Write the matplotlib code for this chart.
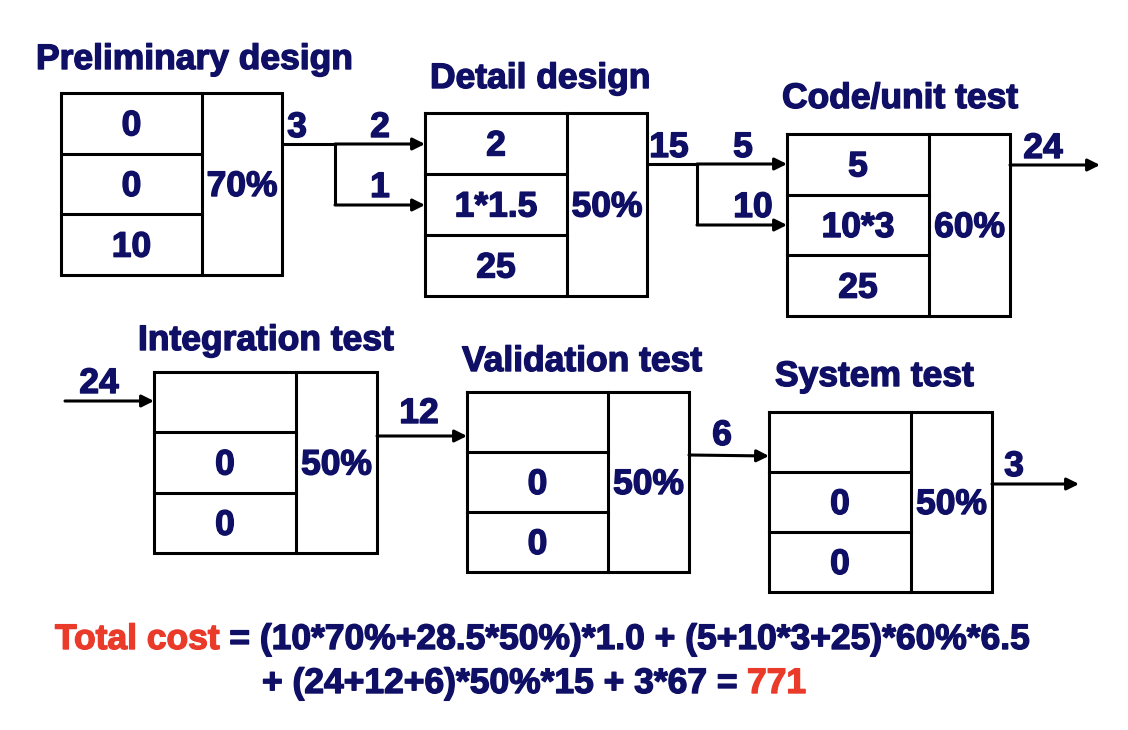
import matplotlib.pyplot as plt
import matplotlib.patheffects as pe

plt.rcParams['font.family'] = ['Liberation Sans', 'DejaVu Sans']

NAVY = '#0f0f66'
RED = '#ea3a2a'
FS = 25.5

# этапы: название, три ячейки, процент
titles = ['Preliminary design', 'Detail design', 'Code/unit test',
          'Integration test', 'Validation test', 'System test']
cells = [['0', '0', '10'], ['2', '1*1.5', '25'], ['5', '10*3', '25'],
         ['', '0', '0'], ['', '0', '0'], ['', '0', '0']]
percents = ['70%', '50%', '60%', '50%', '50%', '50%']

# положение блоков (пиксели): x0, x_div, x1, y0, y1
boxes = [(61, 202, 282, 93, 275), (425, 567, 647, 113, 296), (787, 929, 1010, 134, 316),
         (154, 296, 377, 372, 553), (467, 608, 689, 392, 572), (769, 911, 992, 412, 592)]
title_pos = [(36, 69), (430, 88), (782, 108), (138, 350), (462, 371), (775, 386)]

# подписи на стрелках
flow_labels = ['3', '2', '1', '15', '5', '10', '24', '24', '12', '6', '3']
flow_pos = [(297, 137), (380, 137), (380, 197), (669, 157), (743, 157), (753, 217),
            (1043, 158), (99, 393), (419, 423), (722, 445), (1014, 476)]

fig = plt.figure(figsize=(11.28, 7.30), dpi=100)
ax = fig.add_axes([0, 0, 1, 1])
ax.set_xlim(0, 1128)
ax.set_ylim(730, 0)
ax.axis('off')

LW = 2.2


def txt(x, y, s, color=NAVY, ha='center'):
    # жирнее, чем обычный bold - как в оригинале
    return ax.text(x, y, s, ha=ha, va='baseline', fontsize=FS, fontweight='bold', color=color,
                   path_effects=[pe.withStroke(linewidth=1.0, foreground=color)])


for i, (x0, xd, x1, y0, y1) in enumerate(boxes):
    ax.plot([x0, x1, x1, x0, x0], [y0, y0, y1, y1, y0], color='black', lw=LW, solid_joinstyle='miter')
    ax.plot([xd, xd], [y0, y1], color='black', lw=LW)
    h = (y1 - y0) / 3
    for k in (1, 2):
        ax.plot([x0, xd], [y0 + k * h, y0 + k * h], color='black', lw=LW)
    for k, t in enumerate(cells[i]):
        txt((x0 + xd) / 2, y0 + (k + 0.5) * h + 12, t)
    txt((xd + x1) / 2, (y0 + y1) / 2 + 12, percents[i])
    txt(title_pos[i][0], title_pos[i][1], titles[i], ha='left')


def line(xs, ys):
    ax.plot(xs, ys, color='black', lw=LW, solid_capstyle='butt')


def arrow(x0, y0, x1, y1):
    ax.annotate('', xy=(x1, y1), xytext=(x0, y0),
                arrowprops=dict(arrowstyle='-|>,head_length=0.6,head_width=0.3', mutation_scale=12,
                                color='black', lw=LW, shrinkA=0, shrinkB=0))


# стрелки первого ряда
line([282, 335], [144, 144])
arrow(335, 144, 425, 144)
line([335, 335], [144, 205])
arrow(335, 205, 425, 205)
line([647, 697], [164, 164])
arrow(697, 164, 787, 164)
line([697, 697], [164, 225])
arrow(697, 225, 787, 225)
arrow(1010, 165, 1100, 165)
# второй ряд
arrow(65, 401, 154, 401)
arrow(377, 436, 467, 436)
arrow(689, 455, 769, 456)
arrow(992, 484, 1079, 484)

for t, (x, y) in zip(flow_labels, flow_pos):
    txt(x, y, t)

# итоговая формула
fig.canvas.draw()
r = fig.canvas.get_renderer()
inv = ax.transData.inverted()

t1 = txt(55, 649, 'Total cost', color=RED, ha='left')
bb = inv.transform(t1.get_window_extent(renderer=r))
txt(bb[1][0], 649, ' = (10*70%+28.5*50%)*1.0 + (5+10*3+25)*60%*6.5', ha='left')

t2 = txt(262, 693, '+ (24+12+6)*50%*15 + 3*67 = ', ha='left')
bb = inv.transform(t2.get_window_extent(renderer=r))
txt(bb[1][0], 693, '771', color=RED, ha='left')

plt.savefig('out.png', dpi=100)
